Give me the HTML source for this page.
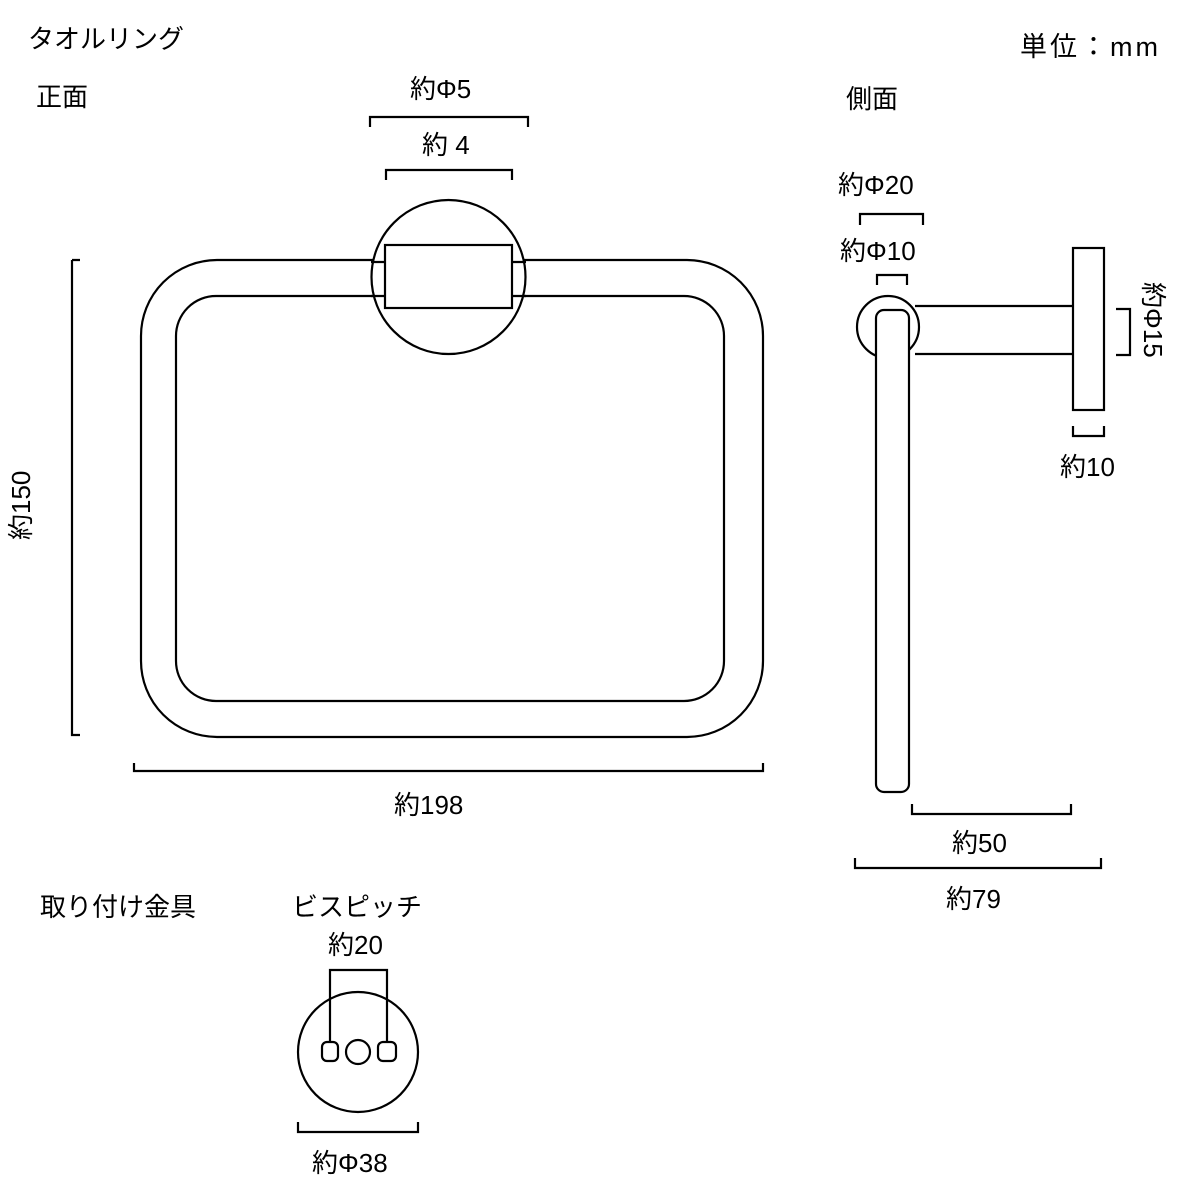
<html><body style="margin:0;background:#fff">
<svg width="1200" height="1200" xmlns="http://www.w3.org/2000/svg" style="font-family:'Liberation Sans','Noto Sans CJK JP',sans-serif">
<g fill="none" stroke="#000" stroke-width="2.2">
<rect x="141" y="260" width="622" height="477" rx="76"/>
<rect x="176" y="296" width="548" height="405" rx="40"/>
<circle cx="448.5" cy="277" r="77" fill="#fff"/>
<path d="M371 262H386M371 296H386M511 262H526M511 296H526" />
<rect x="385" y="245" width="127" height="63" fill="#fff"/>
<path d="M370 127V117H528V127M386 180V170H512V180M72 260H80M72 260V735H80M134 763V771H763V763"/>
<path d="M860 225V214H923V225M877 285V275H907V285M1116 309H1130V355H1116M1073 426V436H1104V426M912 804V814H1071V804M855 858V868H1101V858"/>
<circle cx="888" cy="327" r="31"/>
<path d="M915 306H1073M915 354H1073"/>
<rect x="876" y="310" width="33" height="482" rx="8" fill="#fff"/>
<rect x="1073" y="248" width="31" height="162" fill="#fff"/>
<circle cx="358" cy="1052" r="60"/>
<path d="M330 1044V970H387V1044"/>
<rect x="322" y="1042" width="16" height="19" rx="5" fill="#fff"/>
<rect x="378" y="1042" width="18" height="19" rx="5" fill="#fff"/>
<circle cx="358" cy="1052" r="12"/>
<path d="M298 1122V1132H418V1122"/>
</g>
<g font-size="26" fill="#000">
<text x="28" y="48">タオルリング</text>
<text x="1020" y="56" font-size="27" letter-spacing="3">単位：mm</text>
<text x="36" y="106">正面</text>
<text x="846" y="108">側面</text>
<text x="410" y="98">約Φ5</text>
<text x="422" y="154">約 4</text>
<text x="838" y="194">約Φ20</text>
<text x="840" y="260">約Φ10</text>
<text x="1060" y="476">約10</text>
<text x="394" y="814">約198</text>
<text x="952" y="852">約50</text>
<text x="946" y="908">約79</text>
<text x="40" y="916">取り付け金具</text>
<text x="292" y="916">ビスピッチ</text>
<text x="328" y="954">約20</text>
<text x="312" y="1172">約Φ38</text>
<text transform="translate(30,540) rotate(-90)">約150</text>
<text transform="translate(1144,282) rotate(90)">約Φ15</text>
</g>
</svg>
</body></html>
